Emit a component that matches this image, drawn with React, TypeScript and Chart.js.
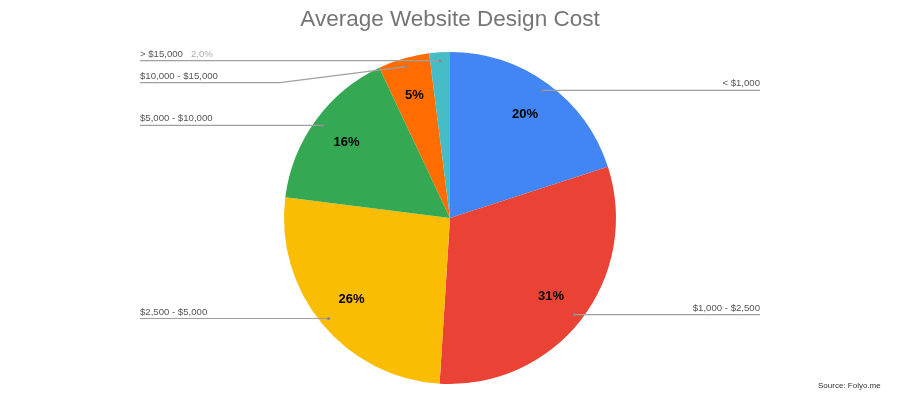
import { useEffect, useRef } from 'react';
import { Chart, registerables } from 'chart.js';

Chart.register(...registerables);

const chartTitle = 'Average Website Design Cost';
const sourceNote = 'Source: Folyo.me';
const categories = ['< $1,000', '$1,000 - $2,500', '$2,500 - $5,000', '$5,000 - $10,000', '$10,000 - $15,000', '> $15,000'];
const shares = [20, 31, 26, 16, 5, 2];
const sliceColors = ['#4285F4', '#EA4335', '#FBBC04', '#34A853', '#FF6D01', '#46BDC6'];

const FONT = 'Arial, "Liberation Sans", sans-serif';

// draws title, inside percentages, leader lines and outside labels
const pieLabels = {
  id: 'pieLabels',
  afterDraw(chart: any) {
    const ctx = chart.ctx;
    const meta = chart.getDatasetMeta(0);
    const total = shares.reduce((a, b) => a + b, 0);

    ctx.save();
    ctx.fillStyle = '#757575';
    ctx.font = `22.5px ${FONT}`;
    ctx.textAlign = 'center';
    ctx.textBaseline = 'middle';
    ctx.fillText(chartTitle, chart.width / 2, 20);

    const left: any[] = [];
    const right: any[] = [];
    let cx = 0, r = 0;

    meta.data.forEach((arc: any, i: number) => {
      const p = arc.getProps(['x', 'y', 'startAngle', 'endAngle', 'outerRadius']);
      cx = p.x; r = p.outerRadius;
      const mid = (p.startAngle + p.endAngle) / 2;
      const pct = (shares[i] / total) * 100;
      if (pct >= 4) {
        ctx.fillStyle = '#000';
        ctx.font = `bold 13px ${FONT}`;
        ctx.textAlign = 'center';
        ctx.textBaseline = 'middle';
        ctx.fillText(Math.round(pct) + '%', p.x + Math.cos(mid) * r * 0.77, p.y + Math.sin(mid) * r * 0.77);
      }
      const item = {
        i, pct,
        dx: p.x + Math.cos(mid) * r * 0.95,
        dy: p.y + Math.sin(mid) * r * 0.95,
      };
      (Math.cos(mid) >= 0 ? right : left).push(item);
    });

    const drawSide = (items: any[], isLeft: boolean) => {
      items.sort((a, b) => a.dy - b.dy);
      let prev = -Infinity;
      items.forEach((it) => {
        const ly = Math.max(it.dy, prev + 22);
        prev = ly;
        const endX = isLeft ? 140 : 760;
        ctx.strokeStyle = '#a0a0a0';
        ctx.lineWidth = 1.2;
        ctx.beginPath();
        ctx.moveTo(it.dx, it.dy);
        if (ly !== it.dy) ctx.lineTo(isLeft ? cx - r - 4 : cx + r + 4, ly);
        ctx.lineTo(endX, ly);
        ctx.stroke();
        ctx.fillStyle = '#8a8a8a';
        ctx.beginPath();
        ctx.arc(it.dx, it.dy, 1.6, 0, Math.PI * 2);
        ctx.fill();

        ctx.font = `9.6px ${FONT}`;
        ctx.textBaseline = 'alphabetic';
        ctx.fillStyle = '#555';
        ctx.textAlign = isLeft ? 'left' : 'right';
        const text = categories[it.i];
        ctx.fillText(text, endX, ly - 4);
        if (it.pct < 4) {
          const w = ctx.measureText(text).width;
          ctx.fillStyle = '#aaa';
          ctx.textAlign = 'left';
          const px = isLeft ? endX + w + 8 : endX + 8;
          ctx.fillText(it.pct.toFixed(1) + '%', px, ly - 4);
        }
      });
    };
    drawSide(left, true);
    drawSide(right, false);

    ctx.fillStyle = '#333';
    ctx.font = `8px ${FONT}`;
    ctx.textAlign = 'left';
    ctx.textBaseline = 'middle';
    ctx.fillText(sourceNote, 818, 386);
    ctx.restore();
  },
};

export default function App() {
  const canvasRef = useRef<HTMLCanvasElement>(null);

  useEffect(() => {
    if (!canvasRef.current) return;
    const chart = new Chart(canvasRef.current, {
      type: 'pie',
      data: {
        labels: categories,
        datasets: [{
          data: shares,
          backgroundColor: sliceColors,
          borderWidth: 0,
          hoverOffset: 0,
        }],
      },
      options: {
        responsive: true,
        maintainAspectRatio: false,
        animation: false,
        layout: { padding: { top: 52, bottom: 16, left: 0, right: 0 } },
        plugins: {
          legend: { display: false },
          title: { display: false },
          tooltip: { enabled: false },
        },
      },
      plugins: [pieLabels],
    });
    return () => chart.destroy();
  }, []);

  return (
    <div style={{ position: 'fixed', left: 0, top: 0, width: 900, height: 400, background: '#fff' }}>
      <canvas ref={canvasRef} />
    </div>
  );
}
